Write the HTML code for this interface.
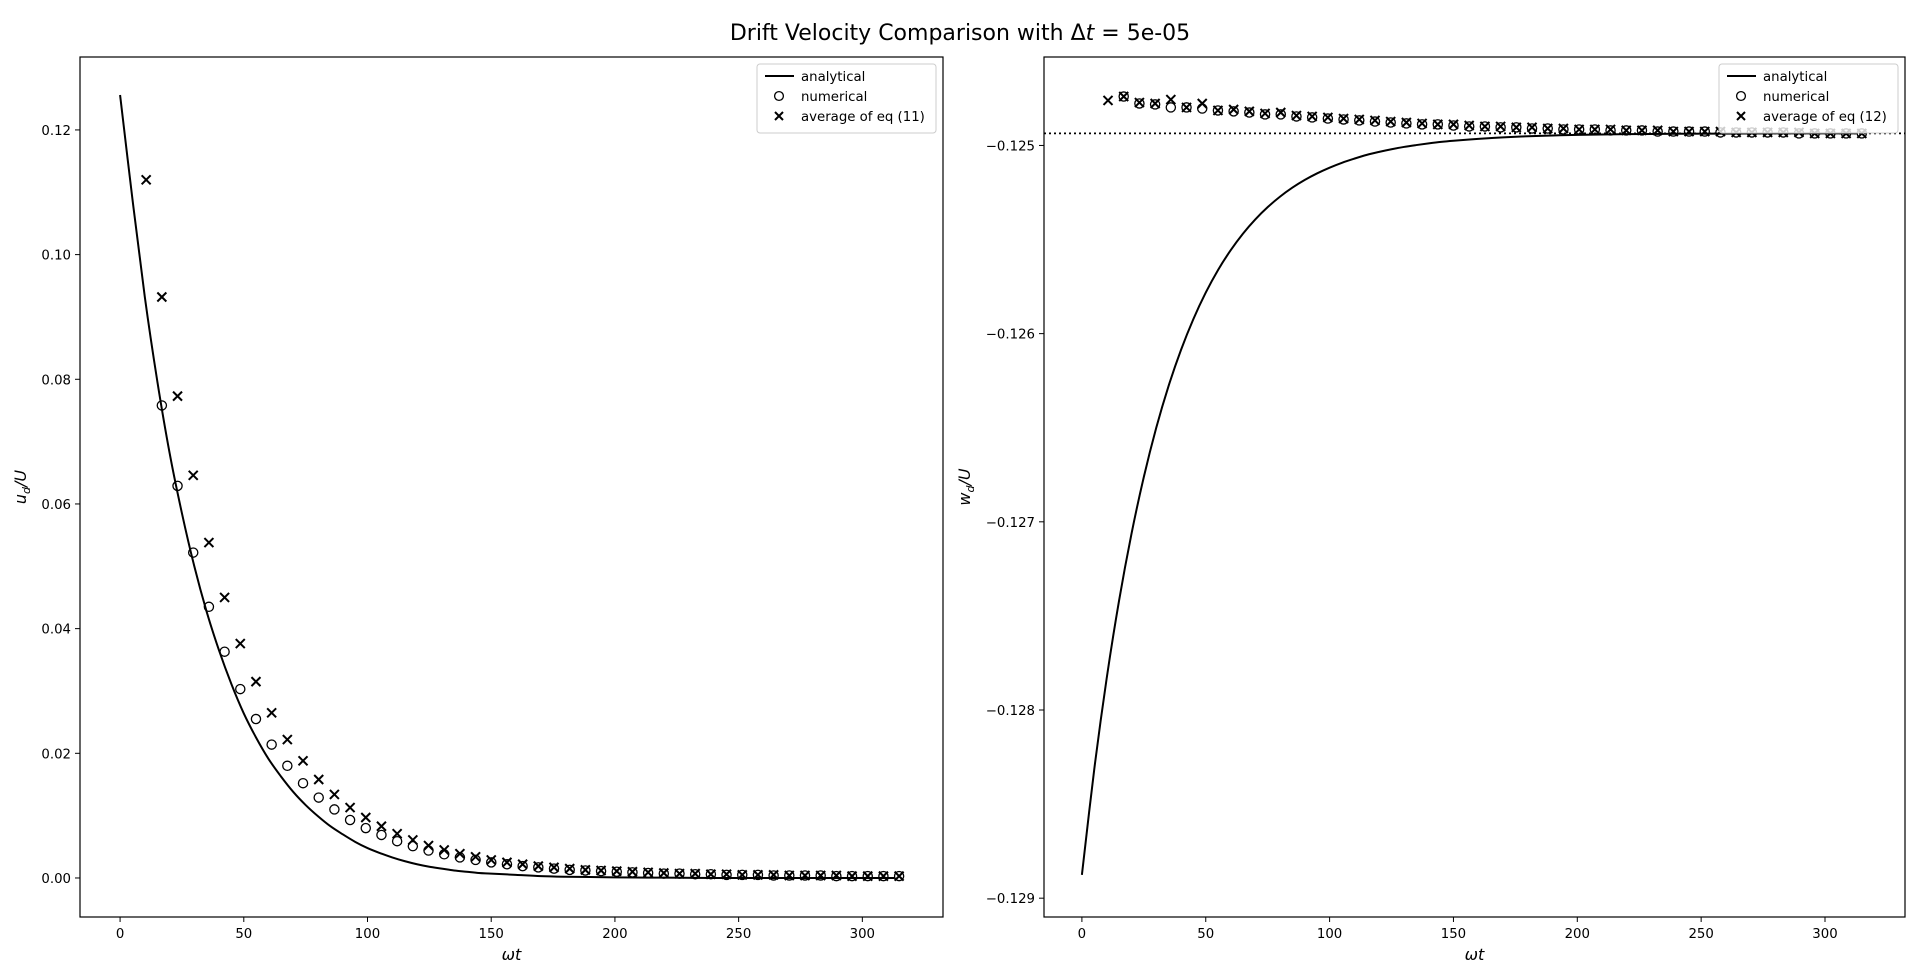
<!DOCTYPE html>
<html><head><meta charset="utf-8"><style>
body{margin:0;background:#fff;}
svg{display:block;font-family:"DejaVu Sans","Liberation Sans",sans-serif;}
</style></head><body>
<svg id="fig" width="1920" height="977" viewBox="0 0 1920 977">
<text x="960" y="40" text-anchor="middle" font-size="22">Drift Velocity Comparison with Δ<tspan font-style="italic">t</tspan> =  5e-05</text>
</svg>
<script>
// ---- data ----
const kIdx = [1,2,3,4,5,6,7,8,9,10,11,12,13,14,15,16,17,18,19,20,21,22,23,24,25,26,27,28,29,30,31,32,33,34,35,36,37,38,39,40,41,42,43,44,45,46,47,48,49];
const tOffset = 4.2, tStep = 6.34;
const anaT = [0,5,10,15,20,25,30,35,40,45,50,55,60,65,70,75,80,85,90,95,100,105,110,115,120,125,130,135,140,145,150,160,170,180,190,200,220,240,260,280,300,313];
const uAna = [0.1256,0.1089,0.0932,0.0798,0.0682,0.0585,0.0500,0.0427,0.0365,0.0311,0.0264,0.0225,0.0191,0.0163,0.0138,0.0117,0.0099,0.0083,0.0070,0.0058,0.0048,0.0040,0.0033,0.0027,0.0022,0.0018,0.0015,0.0012,0.0010,0.0008,0.0007,0.0005,0.0003,0.0002,0.00015,0.0001,0.00005,0,0,0,0,0];
const uNum = [null,0.0758,0.0629,0.0522,0.0435,0.0363,0.0303,0.0255,0.0214,0.0180,0.0152,0.0129,0.0110,0.0093,0.0080,0.0069,0.0059,0.0051,0.0044,0.0038,0.0033,0.0029,0.0025,0.0022,0.0019,0.0017,0.0015,0.0013,0.0012,0.0011,0.0010,0.0009,0.0008,0.0007,0.0007,0.0006,0.0006,0.0005,0.0005,0.0005,0.0004,0.0004,0.0004,0.0004,0.0003,0.0003,0.0003,0.0003,0.0003];
const uAvg = [0.1120,0.0932,0.0773,0.0646,0.0538,0.0450,0.0376,0.0315,0.0265,0.0222,0.0188,0.0158,0.0134,0.0113,0.0097,0.0083,0.0071,0.0061,0.0052,0.0045,0.0039,0.0034,0.0029,0.0025,0.0022,0.0019,0.0017,0.0015,0.0013,0.0012,0.0011,0.0010,0.0009,0.0008,0.0007,0.0007,0.0006,0.0006,0.0005,0.0005,0.0005,0.0004,0.0004,0.0004,0.0004,0.0003,0.0003,0.0003,0.0003];
const wAna = [-0.128876,-0.128314,-0.127832,-0.127419,-0.127065,-0.126762,-0.126501,-0.126278,-0.126087,-0.125923,-0.125782,-0.125661,-0.125558,-0.125469,-0.125393,-0.125328,-0.125272,-0.125224,-0.125183,-0.125148,-0.125118,-0.125092,-0.125070,-0.125050,-0.125034,-0.125020,-0.125008,-0.124998,-0.124989,-0.124981,-0.124975,-0.124965,-0.124957,-0.124951,-0.124947,-0.124944,-0.124940,-0.124938,-0.124937,-0.124936,-0.124936,-0.124936];
const wNum = [null,-0.124740,-0.124777,-0.124782,-0.124798,-0.124798,-0.124804,-0.124814,-0.124819,-0.124825,-0.124835,-0.124835,-0.124846,-0.124851,-0.124857,-0.124862,-0.124867,-0.124873,-0.124878,-0.124883,-0.124888,-0.124888,-0.124894,-0.124899,-0.124899,-0.124904,-0.124904,-0.124910,-0.124910,-0.124915,-0.124915,-0.124915,-0.124920,-0.124920,-0.124920,-0.124926,-0.124926,-0.124926,-0.124926,-0.124931,-0.124931,-0.124931,-0.124931,-0.124931,-0.124936,-0.124936,-0.124936,-0.124936,-0.124936];
const wAvg = [-0.124761,-0.124740,-0.124772,-0.124777,-0.124756,-0.124798,-0.124777,-0.124814,-0.124809,-0.124819,-0.124830,-0.124825,-0.124841,-0.124846,-0.124851,-0.124857,-0.124862,-0.124867,-0.124873,-0.124878,-0.124883,-0.124888,-0.124888,-0.124894,-0.124899,-0.124899,-0.124904,-0.124904,-0.124910,-0.124910,-0.124915,-0.124915,-0.124915,-0.124920,-0.124920,-0.124920,-0.124926,-0.124926,-0.124926,-0.124926,-0.124931,-0.124931,-0.124931,-0.124931,-0.124931,-0.124936,-0.124936,-0.124936,-0.124936];
const wRef = -0.124936;
const xTicks = [0,50,100,150,200,250,300];
const uTicks = [0.00,0.02,0.04,0.06,0.08,0.10,0.12];
const uTickLabels = ["0.00","0.02","0.04","0.06","0.08","0.10","0.12"];
const wTicks = [-0.129,-0.128,-0.127,-0.126,-0.125];
const wTickLabels = ["−0.129","−0.128","−0.127","−0.126","−0.125"];

const NS="http://www.w3.org/2000/svg";
const svg=document.getElementById('fig');
function mk(tag,attrs,parent){const e=document.createElementNS(NS,tag);for(const k in attrs)e.setAttribute(k,attrs[k]);(parent||svg).appendChild(e);return e;}

function smoothPath(P){
  let d=`M${P[0][0].toFixed(2)},${P[0][1].toFixed(2)}`;
  for(let i=0;i<P.length-1;i++){
    const p0=P[Math.max(0,i-1)],p1=P[i],p2=P[i+1],p3=P[Math.min(P.length-1,i+2)];
    const c1x=p1[0]+(p2[0]-p0[0])/6,c1y=p1[1]+(p2[1]-p0[1])/6;
    const c2x=p2[0]-(p3[0]-p1[0])/6,c2y=p2[1]-(p3[1]-p1[1])/6;
    d+=`C${c1x.toFixed(2)},${c1y.toFixed(2)} ${c2x.toFixed(2)},${c2y.toFixed(2)} ${p2[0].toFixed(2)},${p2[1].toFixed(2)}`;
  }
  return d;
}

function panel(cfg){
  const g=mk('g',{});
  
  
  const L=cfg.left,R=cfg.right,T=57,B=917;
  const sx=t=>L+(t-cfg.xmin)/(cfg.xmax-cfg.xmin)*(R-L);
  const sy=v=>B-(v-cfg.ymin)/(cfg.ymax-cfg.ymin)*(B-T);
  xTicks.forEach(t=>{
    const x=sx(t);
    const tk=mk('line',{x1:x,x2:x,y1:B,y2:B+5,stroke:'#000','stroke-width':1},g);
    
    
    const lb=mk('text',{x:x,y:B+21,'text-anchor':'middle','font-size':13.3},g);
    
    
    lb.textContent=t;
  });
  cfg.yTicks.forEach((v,i)=>{
    const y=sy(v);
    const tk=mk('line',{x1:L-5,x2:L,y1:y,y2:y,stroke:'#000','stroke-width':1},g);
    
    
    const lb=mk('text',{x:L-9,y:y+5,'text-anchor':'end','font-size':13.3},g);
    
    
    lb.textContent=cfg.yLabels[i];
  });
  const xl=mk('text',{x:(L+R)/2,y:960,'text-anchor':'middle','font-size':16,'font-style':'italic'},g);
  
  
  xl.textContent='ωt';
  const yl=mk('text',{x:0,y:0,'text-anchor':'middle','font-size':16,'font-style':'italic',transform:`translate(${cfg.ylabX},${(T+B)/2}) rotate(-90)`},g);
  
  
  yl.innerHTML=cfg.ylab+'<tspan font-size="11" dy="4">d</tspan><tspan dy="-4">/U</tspan>';
  const cp=mk('clipPath',{id:cfg.name+'-clip'},g);
  mk('rect',{x:L,y:T,width:R-L,height:B-T},cp);
  const pg=mk('g',{'clip-path':`url(#${cfg.name}-clip)`},g);
  if(cfg.ref!==undefined){
    const rl=mk('line',{x1:L,x2:R,y1:sy(cfg.ref),y2:sy(cfg.ref),stroke:'#000','stroke-width':1.8,'stroke-dasharray':'2,3'},pg);
    
    
  }
  const P=anaT.map((t,i)=>[sx(t),sy(cfg.ana[i])]);
  const pl=mk('path',{d:smoothPath(P),fill:'none',stroke:'#000','stroke-width':2},pg);
  
  
  kIdx.forEach((k,i)=>{
    const t=tOffset+tStep*k;
    if(cfg.num[i]!==null){
      const c=mk('circle',{cx:sx(t),cy:sy(cfg.num[i]),r:4.6,fill:'none',stroke:'#000','stroke-width':1.3},pg);
      
      
    }
    const x=sx(t),y=sy(cfg.avg[i]),s=4.5;
    const p=mk('path',{d:`M${x-s},${y-s}L${x+s},${y+s}M${x-s},${y+s}L${x+s},${y-s}`,stroke:'#000','stroke-width':2,fill:'none'},pg);
    
    
  });
  const fr=mk('rect',{x:L,y:T,width:R-L,height:B-T,fill:'none',stroke:'#000','stroke-width':1.2},g);
  
  
  const lx=cfg.legX,lw=R-7-lx,ly=64;
  const lg=mk('g',{},g);
  
  
  mk('rect',{x:lx,y:ly,width:lw,height:69,rx:3,fill:'#fff','fill-opacity':0.8,stroke:'#ccc','stroke-width':1},lg);
  mk('line',{x1:lx+8,x2:lx+37,y1:ly+12,y2:ly+12,stroke:'#000','stroke-width':2},lg);
  mk('circle',{cx:lx+22,cy:ly+32,r:4.4,fill:'none',stroke:'#000','stroke-width':1.3},lg);
  const cx=lx+22,cy=ly+52;
  mk('path',{d:`M${cx-4},${cy-4}L${cx+4},${cy+4}M${cx-4},${cy+4}L${cx+4},${cy-4}`,stroke:'#000','stroke-width':2},lg);
  ['analytical','numerical',cfg.avgLabel].forEach((s,i)=>{
    const tx=mk('text',{x:lx+44,y:ly+17+i*20,'font-size':13.3},lg);
    
    
    tx.textContent=s;
  });
}
panel({name:'u-drift-panel',left:80,right:943,xmin:-16.2,xmax:332.6,ymin:-0.00626,ymax:0.1317,
  yTicks:uTicks,yLabels:uTickLabels,ana:uAna,num:uNum,avg:uAvg,ylab:'u',ylabX:26,legX:757,avgLabel:'average of eq (11)'});
panel({name:'w-drift-panel',left:1044,right:1905,xmin:-15.3,xmax:332.3,ymin:-0.12910,ymax:-0.12453,
  yTicks:wTicks,yLabels:wTickLabels,ana:wAna,num:wNum,avg:wAvg,ylab:'w',ylabX:970,legX:1719,avgLabel:'average of eq (12)',ref:wRef});
</script>
</body></html>
